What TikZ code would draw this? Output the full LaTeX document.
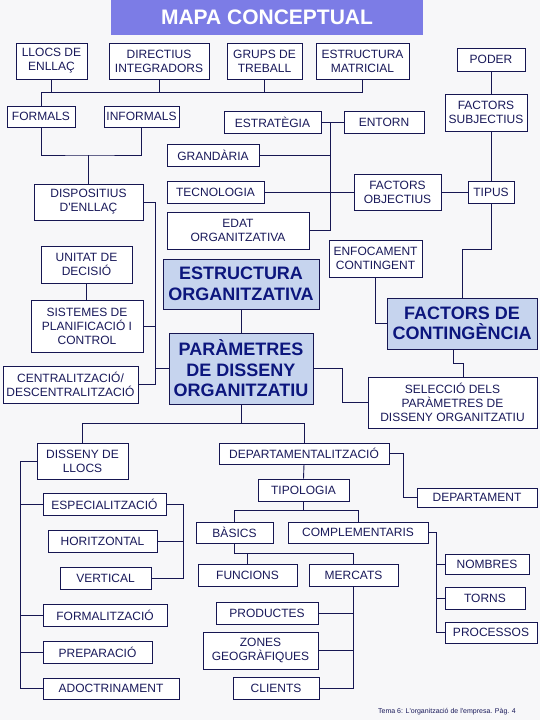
\documentclass[tikz,border=0pt]{standalone}
\usepackage{fontspec}
\setmainfont{Liberation Sans}
\definecolor{linec}{RGB}{22,22,82}
\definecolor{txtc}{RGB}{25,25,90}
\definecolor{bigtxt}{RGB}{12,22,125}
\definecolor{bigfill}{RGB}{198,212,238}
\definecolor{titlec}{RGB}{124,124,230}
\definecolor{bgc}{RGB}{247,247,249}
\begin{document}
\begin{tikzpicture}[x=1pt,y=-1pt,
 box/.style={draw=linec, fill=white, line width=0.9pt, inner sep=0pt, align=center, text=txtc, font=\fontsize{12}{14}\selectfont},
 big/.style={box, fill=bigfill, text=bigtxt, font=\fontsize{18}{20.5}\selectfont\bfseries},
 bb/.style n args={4}{at={({(#1+#3)/2},{(#2+#4)/2})}, minimum width={#3pt-#1pt}, minimum height={#4pt-#2pt}},
 link/.style={draw=linec, line width=0.9pt},
 titlebox/.style={fill=titlec, text=white, inner sep=0pt, font=\fontsize{21}{24}\selectfont\bfseries},
 footer/.style={text=txtc, inner sep=0pt, font=\fontsize{7}{8}\selectfont}]
\useasboundingbox (0,0) rectangle (540,720);
\fill[bgc] (0,0) rectangle (540,720);

\node[titlebox, bb={111}{0}{423}{35}] (title) {MAPA CONCEPTUAL};

\node[box, bb={16}{43}{87}{79}] (llocs) {LLOCS DE\\ENLLAÇ};
\node[box, bb={109}{43}{209}{79}] (directius) {DIRECTIUS\\INTEGRADORS};
\node[box, bb={227}{43}{302}{79}] (grups) {GRUPS DE\\TREBALL};
\node[box, bb={316}{43}{409}{79}] (matricial) {ESTRUCTURA\\MATRICIAL};
\node[box, bb={457}{48}{525}{71}] (poder) {PODER};
\node[box, bb={7}{106}{75}{127}] (formals) {FORMALS};
\node[box, bb={104}{106}{179}{127}] (informals) {INFORMALS};
\node[box, bb={224}{111}{321}{133}] (estrategia) {ESTRATÈGIA};
\node[box, bb={344}{111}{424}{133}] (entorn) {ENTORN};
\node[box, bb={445}{94}{527}{131}] (subjectius) {FACTORS\\SUBJECTIUS};
\node[box, bb={167}{144}{259}{166}] (grandaria) {GRANDÀRIA};
\node[box, bb={167}{181}{264}{203}] (tecnologia) {TECNOLOGIA};
\node[box, bb={354}{174}{441}{210}] (objectius) {FACTORS\\OBJECTIUS};
\node[box, bb={468}{181}{514}{203}] (tipus) {TIPUS};
\node[box, bb={34}{184}{143}{220}] (dispositius) {DISPOSITIUS\\D\textquotesingle ENLLAÇ};
\node[box, bb={167}{212}{309}{249}] (edat) {EDAT\\ORGANITZATIVA};
\node[box, bb={41}{246}{132}{283}] (unitat) {UNITAT DE\\DECISIÓ};
\node[big, bb={163}{259}{319}{309}] (estructura) {ESTRUCTURA\\ORGANITZATIVA};
\node[box, bb={329}{240}{422}{277}] (enfocament) {ENFOCAMENT\\CONTINGENT};
\node[box, bb={31}{300}{143}{352}] (sistemes) {SISTEMES DE\\PLANIFICACIÓ I\\CONTROL};
\node[big, bb={387}{298}{537}{349}] (contingencia) {FACTORS DE\\CONTINGÈNCIA};
\node[big, bb={169}{333}{313}{404}] (parametres) {PARÀMETRES\\DE DISSENY\\ORGANITZATIU};
\node[box, bb={3}{366}{138}{403}] (centralitzacio) {CENTRALITZACIÓ/\\DESCENTRALITZACIÓ};
\node[box, bb={368}{377}{537}{428}] (seleccio) {SELECCIÓ DELS\\PARÀMETRES DE\\DISSENY ORGANITZATIU};
\node[box, bb={37}{443}{128}{479}] (dissenyllocs) {DISSENY DE\\LLOCS};
\node[box, bb={219}{443}{389}{464}] (departamentalitzacio) {DEPARTAMENTALITZACIÓ};
\node[box, bb={258}{479}{349}{501}] (tipologia) {TIPOLOGIA};
\node[box, bb={417}{488}{537}{507}] (departament) {DEPARTAMENT};
\node[box, bb={43}{493}{166}{515}] (especialitzacio) {ESPECIALITZACIÓ};
\node[box, bb={196}{522}{273}{543}] (basics) {BÀSICS};
\node[box, bb={288}{522}{428}{543}] (complementaris) {COMPLEMENTARIS};
\node[box, bb={48}{530}{157}{552}] (horitzontal) {HORITZONTAL};
\node[box, bb={445}{554}{529}{574}] (nombres) {NOMBRES};
\node[box, bb={60}{567}{151}{589}] (vertical) {VERTICAL};
\node[box, bb={198}{564}{297}{586}] (funcions) {FUNCIONS};
\node[box, bb={309}{564}{398}{586}] (mercats) {MERCATS};
\node[box, bb={445}{587}{525}{609}] (torns) {TORNS};
\node[box, bb={43}{604}{167}{626}] (formalitzacio) {FORMALITZACIÓ};
\node[box, bb={216}{602}{318}{624}] (productes) {PRODUCTES};
\node[box, bb={445}{622}{537}{643}] (processos) {PROCESSOS};
\node[box, bb={43}{641}{152}{663}] (preparacio) {PREPARACIÓ};
\node[box, bb={203}{632}{318}{669}] (zones) {ZONES\\GEOGRÀFIQUES};
\node[box, bb={43}{678}{179}{699}] (adoctrinament) {ADOCTRINAMENT};
\node[box, bb={233}{677}{319}{699}] (clients) {CLIENTS};

\node[footer] (footer) at (447,712) {Tema 6: L\textquotesingle organització de l\textquotesingle empresa. Pàg. 4};

% top bus
\coordinate (busL) at (41,92);
\coordinate (busR) at (362.5,92);
\draw[link] (busL |- formals.north) -- (busL) -- (busR) -- (matricial.south);
\draw[link] (llocs.south) -- (llocs.south |- busL);
\draw[link] (directius.south) -- (directius.south |- busL);
\draw[link] (grups.south) -- (grups.south |- busL);
% formals / informals
\coordinate (j1) at (88.5,155);
\draw[link] (formals.south) |- (j1) -| (informals.south);
\draw[link] (j1) -- (dispositius.north);
% estrategia trunk
\coordinate (t1) at (330,122);
\coordinate (t2) at (330,192);
\draw[link] (estrategia.east) -- (entorn.west);
\draw[link] (t1) -- (t2);
\draw[link] (grandaria.east) -- (grandaria.east -| t1);
\draw[link] (tecnologia.east) -- (objectius.west);
\draw[link] (edat.east) -| (t2);
\draw[link] (objectius.east) -- (tipus.west);
\draw[link] (poder.south) -- (subjectius.north -| poder.south);
\draw[link] (subjectius.south -| poder.south) -- (tipus.north -| poder.south);
\coordinate (k1) at (462,249);
\draw[link] (tipus.south) |- (k1) -- (contingencia.north);
\draw[link] (enfocament.south) |- (contingencia.west);
\coordinate (s1) at (453,363);
\coordinate (s2) at (463,363);
\draw[link] (contingencia.south -| s1) -- (s1) -- (s2) -- (seleccio.north -| s2);
\coordinate (p1) at (342,0);
\draw[link] (parametres.east) -| (p1 |- seleccio.west) -- (seleccio.west);
\draw[link] (estructura.south) -- (parametres.north);
% left column
\coordinate (lx) at (155,0);
\draw[link] (dispositius.east) -| (lx |- centralitzacio.east) -- (centralitzacio.east);
\draw[link] (sistemes.east) -- (sistemes.east -| lx);
\draw[link] (parametres.west) -- (parametres.west -| lx);
\draw[link] (unitat.south) -- (unitat.south |- sistemes.north);
% parametres down
\coordinate (q1) at (0,423);
\draw[link] (parametres.south) -- (parametres.south |- q1);
\draw[link] (dissenyllocs.north) -- (dissenyllocs.north |- q1) -- (departamentalitzacio.north |- q1) -- (departamentalitzacio.north);
% left bracket
\coordinate (bx) at (20,0);
\draw[link] (dissenyllocs.west) -| (bx |- adoctrinament.west) -- (adoctrinament.west);
\draw[link] (especialitzacio.west) -- (especialitzacio.west -| bx);
\draw[link] (formalitzacio.west) -- (formalitzacio.west -| bx);
\draw[link] (preparacio.west) -- (preparacio.west -| bx);
\coordinate (ex) at (183,0);
\draw[link] (especialitzacio.east) -| (ex |- vertical.east) -- (vertical.east);
\draw[link] (horitzontal.east) -- (horitzontal.east -| ex);
% departamentalitzacio
\draw[link] (departamentalitzacio.south) -- (tipologia.north);
\coordinate (dx) at (403,0);
\draw[link] (departamentalitzacio.east) -| (dx |- departament.west) -- (departament.west);
\coordinate (r1) at (0,510);
\draw[link] (tipologia.south) -- (tipologia.south |- r1);
\draw[link] (basics.north) -- (basics.north |- r1) -- (complementaris.north |- r1) -- (complementaris.north);
\coordinate (cx) at (436,0);
\draw[link] (complementaris.east) -| (cx |- processos.west) -- (processos.west);
\draw[link] (nombres.west) -- (nombres.west -| cx);
\draw[link] (torns.west) -- (torns.west -| cx);
\coordinate (u1) at (0,553);
\draw[link] (basics.south) -- (basics.south |- u1) -- (mercats.north |- u1) -- (mercats.north);
\draw[link] (funcions.north) -- (funcions.north |- u1);
\draw[link] (mercats.south) |- (clients.east);
\draw[link] (productes.east) -- (productes.east -| mercats.south);
\draw[link] (zones.east) -- (zones.east -| mercats.south);
\end{tikzpicture}
\end{document}
